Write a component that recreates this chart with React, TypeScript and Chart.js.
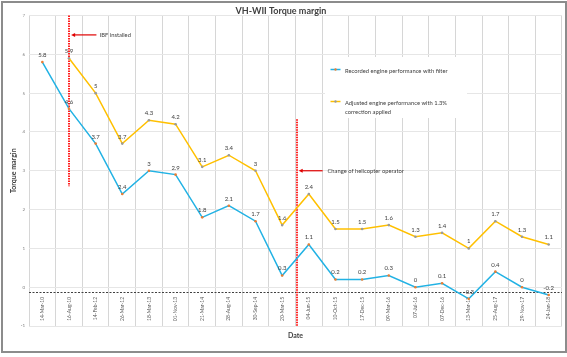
import React, { useEffect, useRef } from 'react';
import { Chart, registerables } from 'chart.js';

Chart.register(...registerables);

const categories = [
  '14-Mar-10', '16-Aug-10', '14-Feb-12', '26-Mar-12', '18-Mar-13', '01-Nov-13',
  '21-Mar-14', '28-Aug-14', '30-Sep-14', '20-Mar-15', '04-Jun-15', '10-Oct-15',
  '17-Dec-15', '09-Mar-16', '07-Jul-16', '07-Dec-16', '13-Mar-17', '25-Aug-17',
  '29-Nov-17', '24-Jan-18',
];
const recorded = [5.8, 4.6, 3.7, 2.4, 3, 2.9, 1.8, 2.1, 1.7, 0.3, 1.1, 0.2, 0.2, 0.3, 0, 0.1, -0.3, 0.4, 0, -0.2];
const adjusted = [null, 5.9, 5, 3.7, 4.3, 4.2, 3.1, 3.4, 3, 1.6, 2.4, 1.5, 1.5, 1.6, 1.3, 1.4, 1, 1.7, 1.3, 1.1];
const yTicks = [-1, 0, 1, 2, 3, 4, 5, 6, 7];
const seriesNames = ['Recorded engine performance with filter', 'Adjusted engine performance with 1.3%|correction applied'];
const baselineValue = -0.12;
const eventLines = [
  { x: 1, yFrom: 7, yTo: 2.6 },
  { x: 9.54, yFrom: 4.33, yTo: -1 },
];
const eventArrows = [
  { text: 'IBF installed', y: 6.5, from: 2.03, to: 1.08, textAt: 2.15 },
  { text: 'Change of helicopter operator', y: 3.0, from: 10.52, to: 9.62, textAt: 10.7 },
];

const FONT = 'Lato, "Liberation Sans", sans-serif';
const BLUE = '#22B2E4';
const YELLOW = '#FFC000';
const TEXT = '#404040';

const extrasPlugin = {
  id: 'extras',
  beforeDatasetsDraw(chart: any) {
    const { ctx, chartArea } = chart;
    const x = chart.scales.x;
    const y = chart.scales.y;
    ctx.save();
    // legend background
    ctx.fillStyle = '#ffffff';
    ctx.fillRect(325, 57, 142, 61);
    // dashed baseline (horizontal axis line)
    const by = Math.round(y.getPixelForValue(baselineValue)) + 0.5;
    ctx.strokeStyle = '#404040';
    ctx.lineWidth = 1;
    ctx.setLineDash([2, 1.5]);
    ctx.beginPath();
    ctx.moveTo(chartArea.left, by);
    ctx.lineTo(chartArea.right, by);
    ctx.stroke();
    // red event lines
    ctx.strokeStyle = '#FF2020';
    ctx.lineWidth = 2;
    ctx.setLineDash([1.5, 1]);
    eventLines.forEach((l) => {
      const px = Math.round(x.getPixelForValue(l.x));
      ctx.beginPath();
      ctx.moveTo(px, y.getPixelForValue(l.yFrom));
      ctx.lineTo(px, y.getPixelForValue(l.yTo));
      ctx.stroke();
    });
    ctx.setLineDash([]);
    // arrows
    eventArrows.forEach((a) => {
      const py = y.getPixelForValue(a.y);
      const x1 = x.getPixelForValue(a.from);
      const x2 = x.getPixelForValue(a.to);
      ctx.strokeStyle = '#E00000';
      ctx.fillStyle = '#E00000';
      ctx.lineWidth = 1.2;
      ctx.beginPath();
      ctx.moveTo(x1, py);
      ctx.lineTo(x2 + 3, py);
      ctx.stroke();
      ctx.beginPath();
      ctx.moveTo(x2, py);
      ctx.lineTo(x2 + 4, py - 2);
      ctx.lineTo(x2 + 4, py + 2);
      ctx.closePath();
      ctx.fill();
      ctx.fillStyle = TEXT;
      ctx.font = `5.8px ${FONT}`;
      ctx.textAlign = 'left';
      ctx.textBaseline = 'middle';
      ctx.fillText(a.text, x.getPixelForValue(a.textAt), py);
    });
    // legend items
    const items = [
      { y: 69.5, lines: seriesNames[0].split('|'), ds: chart.data.datasets[0] },
      { y: 101.5, lines: seriesNames[1].split('|'), ds: chart.data.datasets[1] },
    ];
    items.forEach((it, i) => {
      ctx.strokeStyle = it.ds.borderColor;
      ctx.lineWidth = 1.5;
      ctx.beginPath();
      ctx.moveTo(330.5, it.y);
      ctx.lineTo(340.5, it.y);
      ctx.stroke();
      ctx.fillStyle = it.ds.pointBackgroundColor;
      ctx.beginPath();
      ctx.arc(335.5, it.y, 1.2, 0, Math.PI * 2);
      ctx.fill();
      ctx.fillStyle = TEXT;
      ctx.font = `5.8px ${FONT}`;
      ctx.textAlign = 'left';
      ctx.textBaseline = 'middle';
      it.lines.forEach((t, j) => {
        ctx.fillText(t, 345, it.y + (i === 0 ? 1.5 : 1.8) + j * 8.4);
      });
    });
    ctx.restore();
  },
  afterDatasetsDraw(chart: any) {
    const { ctx } = chart;
    ctx.save();
    ctx.fillStyle = TEXT;
    ctx.font = `6px ${FONT}`;
    ctx.textAlign = 'center';
    ctx.textBaseline = 'middle';
    chart.data.datasets.forEach((ds: any, di: number) => {
      const meta = chart.getDatasetMeta(di);
      meta.data.forEach((pt: any, i: number) => {
        const v = ds.data[i];
        if (v === null || v === undefined) return;
        ctx.fillText(String(v), pt.x, pt.y - 7);
      });
    });
    ctx.restore();
  },
};

export default function App() {
  const ref = useRef<HTMLCanvasElement>(null);
  useEffect(() => {
    if (!ref.current) return;
    Chart.defaults.font.family = FONT;
    const chart = new Chart(ref.current, {
      type: 'line',
      data: {
        labels: categories,
        datasets: [
          {
            label: seriesNames[0],
            data: recorded,
            borderColor: BLUE,
            backgroundColor: BLUE,
            pointBackgroundColor: '#ED7D31',
            pointBorderColor: '#ED7D31',
            pointRadius: 1.3,
            pointBorderWidth: 0,
            borderWidth: 1.5,
            tension: 0,
          },
          {
            label: seriesNames[1],
            data: adjusted,
            borderColor: YELLOW,
            backgroundColor: YELLOW,
            pointBackgroundColor: '#9A9A9A',
            pointBorderColor: '#9A9A9A',
            pointRadius: 1.3,
            pointBorderWidth: 0,
            borderWidth: 1.5,
            tension: 0,
          },
        ],
      },
      options: {
        responsive: false,
        animation: false,
        events: [],
        layout: { padding: { left: 0, right: 5, top: 0, bottom: 17.5 } },
        plugins: {
          legend: { display: false },
          tooltip: { enabled: false },
          title: {
            display: true,
            text: 'VH-WII Torque margin',
            color: TEXT,
            font: { size: 9, weight: 'bold', family: FONT, lineHeight: 1 },
            padding: { top: 6.5, bottom: 0 },
          },
          subtitle: {
            display: true,
            position: 'bottom',
            fullSize: false,
            text: 'Date',
            color: TEXT,
            font: { size: 7, weight: 'bold', family: FONT, lineHeight: 1 },
            padding: { top: 6.5, bottom: 0 },
          },
        },
        scales: {
          x: {
            type: 'category',
            position: { y: baselineValue } as any,
            offset: true,
            grid: { color: '#d6d6d6', lineWidth: 1, offset: true, drawTicks: false },
            border: { display: false },
            ticks: {
              color: '#595959',
              font: { size: 5, family: FONT },
              minRotation: 90,
              maxRotation: 90,
              padding: 5,
              autoSkip: false,
            },
          },
          y: {
            min: -1,
            max: 7,
            afterFit: (s: any) => { s.width = 29; },
            afterBuildTicks: (s: any) => { s.ticks = yTicks.map((v) => ({ value: v })); },
            grid: { color: '#e6e6e6', lineWidth: 1, drawTicks: false },
            border: { display: false },
            ticks: {
              color: '#7f7f7f',
              font: { size: 4.5, family: FONT },
              padding: 4,
            },
            title: {
              display: true,
              text: 'Torque margin',
              color: TEXT,
              font: { size: 7, weight: 'bold', family: FONT, lineHeight: 1.2 },
              padding: { top: 10, bottom: 0 },
            },
          },
        },
      },
      plugins: [extrasPlugin],
    } as any);
    return () => chart.destroy();
  }, []);

  return (
    <div style={{ position: 'fixed', left: 0, top: 0, width: 567, height: 357, background: '#ffffff' }}>
      <canvas ref={ref} width={567} height={357} style={{ display: 'block' }} />
      <div
        style={{
          position: 'absolute', left: 1, top: 1, width: 566, height: 352,
          boxSizing: 'border-box', border: '2px solid #8c8c8c', pointerEvents: 'none',
        }}
      />
    </div>
  );
}
